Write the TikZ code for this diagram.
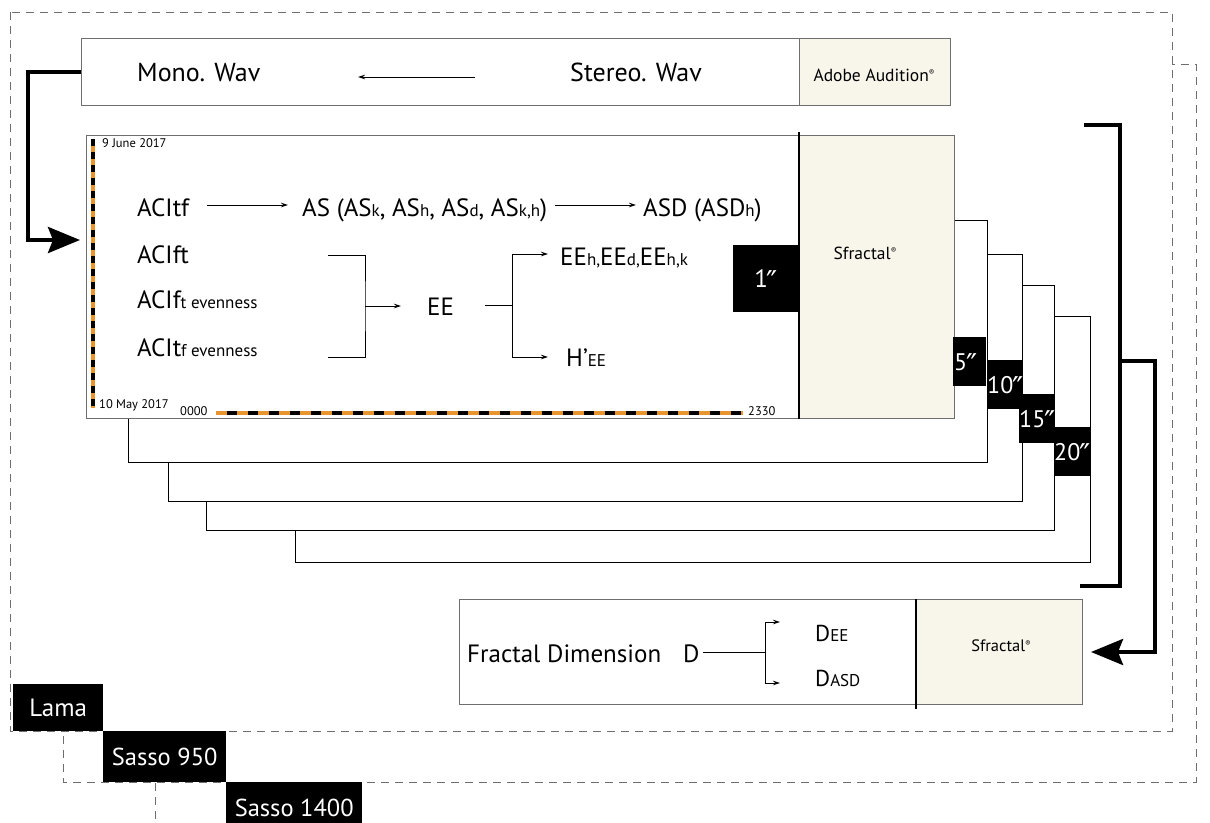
\documentclass[tikz,border=0pt]{standalone}
\usepackage{fontspec}
\setmainfont{PT Sans}
\newfontfamily\djv{DejaVu Sans}
\usetikzlibrary{arrows.meta}
\definecolor{beige}{HTML}{F8F5EA}
\definecolor{orng}{HTML}{E8952F}
\definecolor{dgray}{HTML}{6E6E6E}
\newcommand\fsz[1]{\fontsize{#1}{#1}\selectfont}
\newcommand\sreg{\raisebox{0.6ex}{\fsz{8}®}}
\newcommand\sm[1]{{\fsz{17}#1}}
\newcommand\dpr{\kern-1pt\raisebox{-4.5pt}{\djv\fsz{30}″}}
\begin{document}
\begin{tikzpicture}[x=1pt,y=-1pt,
  txt/.style={inner sep=0pt, anchor=base west, font=\fsz{25}},
  ctxt/.style={inner sep=0pt, anchor=base, font=\fsz{17.5}},
  tiny/.style={inner sep=0pt, anchor=base west, font=\fsz{12.5}},
  dsh/.style={draw=dgray, line width=0.9pt, dash pattern=on 8pt off 6pt},
  box/.style={draw=dgray, fill=white, line width=0.8pt, anchor=north west, inner sep=0pt},
  bbox/.style={draw=dgray, fill=beige, line width=0.8pt, anchor=north west, inner sep=0pt},
  fr/.style={draw=black, fill=white, line width=0.8pt},
  blk/.style={fill=black, anchor=north west, inner sep=0pt},
  wt/.style={text=white, inner sep=0pt, font=\fsz{24}},
  tarr/.style={line width=0.8pt, -{Stealth[length=7pt,width=4.5pt]}},
  tln/.style={line width=0.8pt},
  thk/.style={line width=4pt},
  bigtip/.style={-{Stealth[length=32pt,width=26pt,inset=5pt]}}
]
\useasboundingbox (0,0) rectangle (1210,822);

% dashed site frames
\draw[dsh] (155,783) -- (155,822);
\draw[dsh, fill=white] (63,64) rectangle (1196,782);
\draw[dsh, fill=white] (10,12) rectangle (1172,731);

% site labels
\node[blk, minimum width=90pt, minimum height=47pt] (lama) at (13,684) {};
\node[wt, font=\fsz{25}] (lamat) at (lama.center) {Lama};
\node[blk, minimum width=123pt, minimum height=51pt] (s950) at (103,731) {};
\node[wt, font=\fsz{24.5}] (s950t) at (s950.center) {Sasso 950};
\node[blk, minimum width=136pt, minimum height=45pt] (s1400) at (226,782) {};
\node[wt, font=\fsz{24.5}] (s1400t) at ([yshift=-3pt]s1400.center) {Sasso 1400};

% top box
\node[box, minimum width=869pt, minimum height=67pt] (topbox) at (81,38) {};
\node[bbox, minimum width=151pt, minimum height=67pt] (adobe) at (799,38) {};
\node[txt, font=\fsz{26}] (mono) at (137,81) {Mono. Wav};
\node[txt, font=\fsz{26}] (stereo) at (570,81) {Stereo. Wav};
\node[ctxt] (adobet) at (874,81) {Adobe Audition\sreg};
\coordinate (a0s) at (475,77);
\coordinate (a0e) at (358,77);
\draw[tarr] (a0s) -- (a0e);

% stacked frames
\draw[fr] (295,316) rectangle (1090,562);
\draw[fr] (206,285) rectangle (1054,530);
\draw[fr] (168,254) rectangle (1022,501);
\draw[fr] (128,220) rectangle (987,462);

% main box
\node[box, minimum width=868pt, minimum height=283pt] (mainbox) at (86,135) {};
\node[bbox, minimum width=155pt, minimum height=283pt] (sfr) at (799,135) {};
\draw[line width=1.2pt] (sfr.north west) ++(0,-3) -- (sfr.south west);
\node[ctxt] (sfrt) at (865,259) {Sfractal\sreg};

% colored axes
\coordinate (ax1) at (93,139);
\coordinate (ax2) at (93,408);
\draw[orng, line width=4pt] (ax1) -- (ax2);
\draw[black, line width=4pt, dash pattern=on 6.5pt off 6.5pt] (ax1) -- (ax2);
\coordinate (bx1) at (216,413);
\coordinate (bx2) at (743,413);
\draw[orng, line width=4pt] (bx1) -- (bx2);
\draw[black, line width=4pt, dash pattern=on 10.5pt off 10.5pt, dash phase=10.5pt] (bx1) -- (bx2);
\node[tiny] (d1) at (102,147) {9 June 2017};
\node[tiny] (d2) at (99,408) {10 May 2017};
\node[tiny] (t0) at (180,415) {0000};
\node[tiny] (t1) at (748,415) {2330};

% contents
\node[txt] (acitf) at (137,216) {ACItf};
\node[txt] (as) at (302,216) {AS (AS\sm{k}, AS\sm{h}, AS\sm{d}, AS\sm{k,h})};
\node[txt] (asd) at (643,216) {ASD (ASD\sm{h})};
\coordinate (a1s) at (207,205);
\coordinate (a1e) at (288,205);
\draw[tarr] (a1s) -- (a1e);
\coordinate (a2s) at (555,205);
\coordinate (a2e) at (636,205);
\draw[tarr] (a2s) -- (a2e);

\node[txt] (aciff) at (137,263) {ACIft};
\node[txt] (acift) at (137,308) {ACIf\sm{t evenness}};
\node[txt] (acitff) at (137,356) {ACIt\sm{f evenness}};
\coordinate (br1) at (328,255);
\coordinate (br2) at (328,357);
\coordinate (brm) at (365,306);
\coordinate (bre) at (401,306);
\draw[tln] (br1) -| (brm) |- (br2);
\draw[tarr] (brm) -- (bre);
\node[txt] (ee) at (427,315) {EE};

\coordinate (f0) at (485,305);
\coordinate (fm) at (512,305);
\coordinate (fu) at (548,254);
\coordinate (fd) at (548,357);
\draw[tln] (f0) -- (fm);
\draw[tarr] (fm) |- (fu);
\draw[tarr] (fm) |- (fd);
\node[txt] (eeh) at (560,265) {EE\sm{h,}EE\sm{d,}EE\sm{h,k}};
\node[txt] (hee) at (566,366) {H’\sm{EE}};

\node[blk, minimum width=66pt, minimum height=67pt] (b1) at (733,245) {};
\node[wt, font=\fsz{25}, anchor=base] (b1t) at ([yshift=-9pt]b1.center) {1\dpr};

% scale labels
\node[blk, minimum width=33pt, minimum height=49pt] (b5) at (953,337) {};
\node[wt, anchor=base west] (b5t) at ([xshift=1pt,yshift=-9pt]b5.center -| b5.west) {5\dpr};
\node[blk, minimum width=35pt, minimum height=49pt] (b10) at (987,360) {};
\node[wt, anchor=base west] (b10t) at ([xshift=0pt,yshift=-9pt]b10.center -| b10.west) {10\dpr};
\node[blk, minimum width=35pt, minimum height=49pt] (b15) at (1019,394) {};
\node[wt, anchor=base west] (b15t) at ([xshift=0pt,yshift=-9pt]b15.center -| b15.west) {15\dpr};
\node[blk, minimum width=36pt, minimum height=49pt] (b20) at (1054,427) {};
\node[wt, anchor=base west] (b20t) at ([xshift=0pt,yshift=-9pt]b20.center -| b20.west) {20\dpr};

% bottom box
\node[box, minimum width=623pt, minimum height=105pt] (botbox) at (459,599) {};
\node[bbox, minimum width=166pt, minimum height=105pt] (sfr2) at (916,599) {};
\draw[line width=1.2pt] (sfr2.north west) -- ([yshift=-4pt]sfr2.south west);
\node[ctxt, font=\fsz{16.5}] (sfr2t) at (1001,651) {Sfractal\sreg};
\node[txt] (fd) at (467,662) {Fractal Dimension};
\node[txt] (fdD) at (683,662) {D};
\coordinate (g0) at (703,652);
\coordinate (gm) at (765,652);
\coordinate (gu) at (780,622);
\coordinate (gd) at (780,683);
\draw[tln] (g0) -- (gm);
\draw[tarr] (gm) |- (gu);
\draw[tarr] (gm) |- (gd);
\node[txt, font=\fsz{23}] (dee) at (815,641) {D\sm{EE}};
\node[txt, font=\fsz{23}] (dasd) at (815,686) {D\sm{ASD}};

% thick connectors
\coordinate (arrin) at (80,240);
\draw[thk, bigtip] (topbox.west) -- ++(-53,0) |- (arrin);
\coordinate (k1) at (1084,125);
\coordinate (k2) at (1120,586);
\coordinate (k3) at (1080,586);
\coordinate (km) at (1120,361);
\coordinate (kr) at (1155,361);
\coordinate (arrout) at (1091,652);
\draw[thk] (k1) -| (k2) -- (k3);
\draw[thk, bigtip] (km) -- (kr) |- (arrout);
\end{tikzpicture}
\end{document}
